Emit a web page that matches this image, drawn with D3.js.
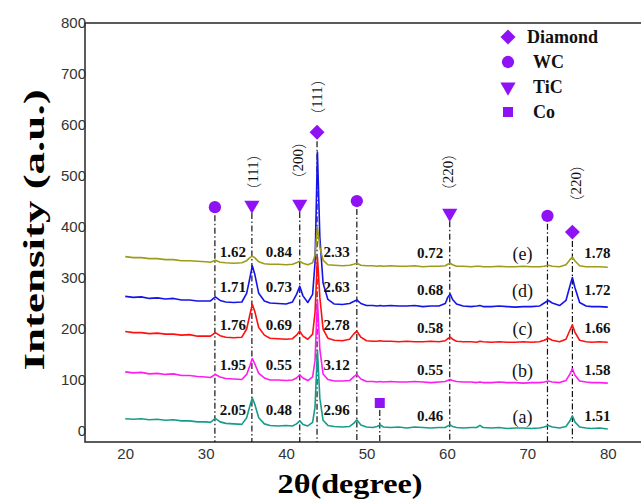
<!DOCTYPE html>
<html>
<head>
<meta charset="utf-8">
<script src="https://cdn.jsdelivr.net/npm/d3@7"></script>
<style>
  body { margin: 0; background: #fff; }
  svg { display: block; }
</style>
</head>
<body>
<svg id="chart"></svg>
<script>
// 2θ grid shared by all patterns (denser around the peaks)
const twoTheta = [20, 21, 22, 23, 24, 25, 26, 27, 28, 29, 30, 30.6, 31.2, 31.8, 32.5, 33.5, 34.5, 35.1, 35.5, 35.8,
  36.1, 36.6, 37.3, 38, 39, 40, 40.8, 41.3, 41.7, 42.1, 42.7, 43.3, 43.6, 43.9, 44.2, 44.6, 45.2, 46, 47, 47.9,
  48.4, 48.8, 49.3, 50, 50.8, 51.3, 51.7, 52.1, 53, 54, 55, 56, 57, 58, 59, 59.8, 60.1, 60.4, 60.7, 61.2,
  62, 63, 63.7, 64.1, 64.5, 65.5, 66.5, 67.5, 68.5, 69.5, 70.5, 71.5, 72.1, 72.6, 73.1, 74, 74.8, 75.3, 75.6, 75.9,
  76.5, 77.3, 78, 79, 80];

const seriesA = [24, 23, 24, 22, 23, 21, 22, 20, 20, 18, 18, 17, 25, 18, 15, 14, 13, 26, 49, 65,
  53, 26, 14, 11, 10, 11, 10, 14, 20, 13, 10, 17, 47, 159, 64, 21, 11, 9, 8, 9,
  15, 22, 12, 8, 7, 9, 12, 8, 7, 8, 6, 8, 7, 6, 7, 7, 10, 12, 9, 7,
  6, 7, 7, 11, 7, 6, 7, 5, 6, 6, 5, 6, 8, 11, 8, 6, 9, 20, 30, 18,
  8, 6, 5, 6, 4];
const seriesB = [116, 114, 115, 112, 113, 111, 112, 109, 109, 107, 106, 105, 111, 106, 103, 102, 101, 111, 128, 142,
  132, 113, 104, 100, 100, 99, 100, 104, 110, 104, 99, 106, 138, 258, 160, 112, 101, 98, 98, 99,
  106, 111, 102, 97, 97, 96, 97, 96, 97, 96, 96, 97, 96, 95, 96, 97, 99, 101, 99, 97,
  96, 96, 95, 96, 95, 95, 96, 95, 95, 94, 95, 95, 96, 98, 96, 95, 99, 112, 122, 110,
  98, 96, 95, 95, 94];
const seriesC = [195, 193, 193, 191, 192, 190, 190, 188, 189, 186, 186, 186, 193, 187, 184, 183, 184, 200, 228, 248,
  235, 203, 188, 182, 181, 180, 181, 188, 196, 186, 180, 190, 232, 341, 262, 200, 182, 178, 177, 180,
  190, 196, 184, 177, 176, 176, 177, 176, 176, 175, 176, 175, 175, 176, 175, 177, 181, 184, 180, 176,
  175, 175, 174, 176, 175, 174, 175, 174, 174, 175, 174, 175, 178, 182, 178, 175, 180, 198, 208, 194,
  178, 175, 174, 175, 174];
const seriesD = [264, 262, 263, 260, 261, 259, 260, 257, 257, 255, 255, 255, 263, 256, 253, 252, 253, 270, 300, 324,
  308, 270, 255, 251, 250, 249, 253, 268, 284, 265, 252, 268, 330, 547, 380, 290, 258, 249, 248, 250,
  254, 257, 250, 246, 246, 245, 246, 245, 246, 245, 245, 246, 244, 245, 245, 250, 262, 269, 258, 249,
  245, 244, 245, 246, 244, 244, 245, 244, 243, 244, 244, 245, 251, 256, 251, 246, 256, 285, 301, 282,
  252, 245, 244, 244, 243];
const seriesE = [342, 340, 340, 338, 338, 336, 336, 334, 334, 333, 332, 331, 335, 331, 330, 329, 330, 334, 340, 343,
  340, 332, 328, 327, 327, 326, 327, 330, 333, 329, 326, 330, 345, 400, 360, 335, 326, 325, 324, 325,
  327, 329, 325, 324, 324, 323, 324, 323, 324, 323, 323, 324, 322, 323, 323, 324, 327, 329, 326, 323,
  323, 322, 323, 323, 322, 322, 323, 322, 322, 323, 322, 322, 323, 325, 323, 322, 326, 336, 341, 334,
  324, 322, 322, 322, 321];

const seriesNames = ["(a)", "(b)", "(c)", "(d)", "(e)"];
const seriesColors = ["#179c8c", "#ff1cf0", "#ff1010", "#1414e8", "#9c9c1a"];

// texture coefficient labels per pattern, and where they sit
const ratioA = [2.05, 0.48, 2.96, 0.46, 1.51];
const ratioB = [1.95, 0.55, 3.12, 0.55, 1.58];
const ratioC = [1.76, 0.69, 2.78, 0.58, 1.66];
const ratioD = [1.71, 0.73, 2.63, 0.68, 1.72];
const ratioE = [1.62, 0.84, 2.33, 0.72, 1.78];
const ratioAngles = [33.4, 39.1, 46.3, 57.9, 78.7];
const nameAngle = 69.4;
const levelsLeft = [41, 129, 208, 282, 351];
const levelsRight = [29, 120, 202, 276, 349];

// phase markers
const phaseNames = ["Diamond", "WC", "TiC", "Co"];
const markerAngles = [31.15, 35.75, 41.7, 43.85, 48.8, 51.65, 60.35, 72.5, 75.6];
const markerPhases = ["WC", "TiC", "TiC", "Diamond", "WC", "Co", "TiC", "WC", "Diamond"];
const markerLevels = [439, 443, 445, 586, 451, 55, 427, 422, 390];

// crystal plane labels
const planeLabels = ["（111）", "（200）", "（111）", "（220）", "（220）"];
const planeAngles = [35.85, 41.45, 43.9, 60.1, 76.05];
const planeLevels = [508, 531, 655, 508, 486];

const xTicks = [20, 30, 40, 50, 60, 70, 80];
const yTicks = [0, 100, 200, 300, 400, 500, 600, 700, 800];

const width = 641, height = 501;
const plotLeft = 85, plotRight = 648, plotTop = 23, plotBottom = 442;

const svg = d3.select("#chart").attr("width", width).attr("height", height);

const x = d3.scaleLinear().domain([15, 85]).range([plotLeft, plotRight]);
const y = d3.scaleLinear().domain([-21.5, 800]).range([plotBottom, plotTop]);

// frame
svg.append("rect")
  .attr("x", plotLeft).attr("y", plotTop)
  .attr("width", plotRight - plotLeft).attr("height", plotBottom - plotTop)
  .attr("fill", "none").attr("stroke", "#333").attr("stroke-width", 1.6);

// axes (labels only, no tick marks)
const xAxis = svg.append("g")
  .attr("transform", "translate(0," + plotBottom + ")")
  .call(d3.axisBottom(x).tickValues(xTicks).tickSize(0).tickPadding(6));
const yAxis = svg.append("g")
  .attr("transform", "translate(" + (plotLeft + 1) + ",0)")
  .call(d3.axisLeft(y).tickValues(yTicks).tickSize(0).tickPadding(0));
[xAxis, yAxis].forEach(function (g) {
  g.select(".domain").remove();
  g.selectAll("text")
    .attr("fill", "#333")
    .style("font-family", "'Liberation Sans', Arial, sans-serif")
    .style("font-size", "15px");
});

const serif = "'Liberation Serif', 'Times New Roman', serif";

// axis titles (the original lettering is stretched along the axis)
svg.append("text")
  .attr("transform", "translate(44,230) rotate(-90) scale(1.5,1)")
  .attr("text-anchor", "middle")
  .style("font-family", serif)
  .style("font-weight", "bold").style("font-size", "30px")
  .text("Intensity (a.u.)");
svg.append("text")
  .attr("transform", "translate(350,493) scale(1.15,1)")
  .attr("text-anchor", "middle")
  .style("font-family", serif)
  .style("font-weight", "bold").style("font-size", "28px")
  .text("2θ(degree)");

// dash-dot reference lines
const markerGap = { Diamond: 9, WC: 8, TiC: 8, Co: 7 };
svg.append("g").selectAll("line")
  .data(markerAngles)
  .enter().append("line")
  .attr("x1", d => x(d)).attr("x2", d => x(d))
  .attr("y1", (d, i) => y(markerLevels[i]) + markerGap[markerPhases[i]])
  .attr("y2", plotBottom)
  .attr("stroke", "#111").attr("stroke-width", 1.2)
  .attr("stroke-dasharray", "6,2.5,1.5,2.5");

// patterns
const allSeries = [seriesA, seriesB, seriesC, seriesD, seriesE];
const line = d3.line()
  .x((d, i) => x(twoTheta[i]))
  .y(d => y(d));
svg.append("g").selectAll("path")
  .data(allSeries)
  .enter().append("path")
  .attr("d", line)
  .attr("fill", "none")
  .attr("stroke", (d, i) => seriesColors[i])
  .attr("stroke-width", 1.6)
  .attr("stroke-linejoin", "round");

// marker shapes
const purple = "#8f12f5";
function symbolPath(phase) {
  if (phase === "Diamond") return d3.symbol().type(d3.symbolSquare).size(112)();
  if (phase === "WC") return d3.symbol().type(d3.symbolCircle).size(118)();
  if (phase === "TiC") return d3.symbol().type(d3.symbolTriangle).size(100)();
  return d3.symbol().type(d3.symbolSquare).size(100)();
}
function symbolRotate(phase) {
  if (phase === "Diamond") return 45;
  if (phase === "TiC") return 180;
  return 0;
}
svg.append("g").selectAll("path")
  .data(markerAngles)
  .enter().append("path")
  .attr("d", (d, i) => symbolPath(markerPhases[i]))
  .attr("transform", (d, i) => "translate(" + x(d) + "," + y(markerLevels[i]) + ") rotate(" + symbolRotate(markerPhases[i]) + ")")
  .attr("fill", purple);

// plane labels (rotated, full-width brackets from the CJK font)
const cjk = "'Noto Sans CJK SC', sans-serif";
const planeText = svg.append("g").selectAll("text")
  .data(planeLabels)
  .enter().append("text")
  .attr("transform", (d, i) => "translate(" + x(planeAngles[i]) + "," + y(planeLevels[i]) + ") rotate(-90)")
  .attr("text-anchor", "middle").attr("dominant-baseline", "central")
  .style("font-family", serif)
  .style("font-size", "15px")
  .attr("fill", "#111");
planeText.append("tspan").style("font-family", cjk).style("font-weight", "300").text(d => d.slice(0, 1));
planeText.append("tspan").text(d => d.slice(1, -1));
planeText.append("tspan").style("font-family", cjk).style("font-weight", "300").text(d => d.slice(-1));

// ratio labels and series names
const ratios = [ratioA, ratioB, ratioC, ratioD, ratioE];
ratios.forEach(function (row, r) {
  svg.append("g").selectAll("text")
    .data(row)
    .enter().append("text")
    .attr("x", (d, i) => x(ratioAngles[i]))
    .attr("y", (d, i) => y(i < 3 ? levelsLeft[r] : levelsRight[r]))
    .attr("text-anchor", "middle").attr("dominant-baseline", "central")
    .style("font-family", serif).style("font-weight", "bold").style("font-size", "15px")
    .attr("fill", "#111")
    .text(d => d.toFixed(2));
  svg.append("text")
    .attr("x", x(nameAngle)).attr("y", y(levelsRight[r]) + 1)
    .attr("text-anchor", "middle").attr("dominant-baseline", "central")
    .style("font-family", serif).style("font-size", "18px")
    .attr("fill", "#111")
    .text(seriesNames[r]);
});

// legend
const legend = svg.append("g").attr("transform", "translate(508,37)");
phaseNames.forEach(function (p, i) {
  legend.append("path")
    .attr("d", symbolPath(p))
    .attr("transform", "translate(0," + (i * 25) + ") rotate(" + symbolRotate(p) + ")")
    .attr("fill", purple);
  legend.append("text")
    .attr("x", p === "Diamond" ? 19 : 25).attr("y", i * 25)
    .attr("dominant-baseline", "central")
    .style("font-family", serif).style("font-weight", "bold").style("font-size", "18px")
    .attr("fill", "#111")
    .text(p);
});
</script>
</body>
</html>
